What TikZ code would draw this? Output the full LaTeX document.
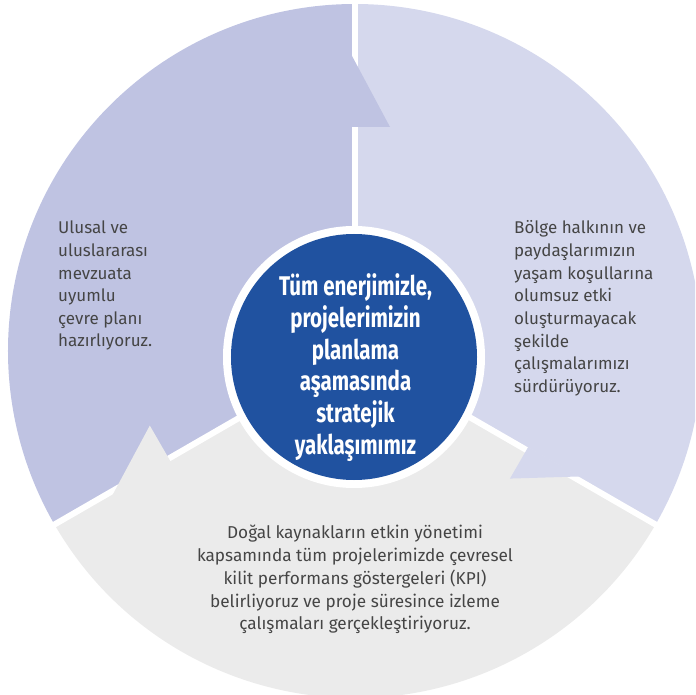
\documentclass[tikz,border=0pt]{standalone}
\usepackage{fontspec}
\setmainfont{Fira Sans}
\newfontfamily\condfont[FakeStretch=0.76]{Fira Sans}
\usetikzlibrary{calc}
\definecolor{leftfill}{HTML}{BFC3E2}
\definecolor{rightfill}{HTML}{D5D8ED}
\definecolor{bottomfill}{HTML}{EBEBEB}
\definecolor{hubfill}{HTML}{2052A0}
\definecolor{bodytext}{HTML}{454545}
\tikzset{
  gapline/.style={white, line width=6pt},
  bodylabel/.style={inner sep=0pt, text=bodytext,
                    font=\fontsize{17}{22.6}\selectfont},
  hublabel/.style={inner sep=0pt, align=center, text=white,
                   font=\condfont\bfseries\fontsize{27}{31.8}\selectfont}
}
\begin{document}
\begin{tikzpicture}[x=1pt, y=1pt]

  \useasboundingbox (-355,-344) rectangle (340,351);
  \clip (-355,-344) rectangle (340,351);
  \def\R{347}

  % ===== Three sectors =====
  \fill[leftfill]   (0,0) -- (90:\R)  arc[start angle=90,  end angle=210, radius=\R] -- cycle;
  \fill[bottomfill] (0,0) -- (210:\R) arc[start angle=210, end angle=330, radius=\R] -- cycle;
  \fill[rightfill]  (0,0) -- (-30:\R) arc[start angle=-30, end angle=90,  radius=\R] -- cycle;

  % white gaps between sectors
  \foreach \a in {90,210,330}
    \draw[gapline] (0,0) -- (\a:{\R+10});

  % arrow tips pointing clockwise into the next sector
  \foreach \a/\ri/\ro/\p/\col in {90/224/296/35/leftfill,
                                  -30/198/257/33/rightfill,
                                  210/215/282/38/bottomfill}
    \fill[\col] ($(\a:\ro)+({\a+90}:3.5)$) -- ($(\a:\ri)+({\a+90}:3.5)$)
                -- ($(\a:\ri)+({\a-90}:\p)$) -- cycle;

  % ===== Hub =====
  \fill[white]   (-1,-6) circle[radius=131];
  \fill[hubfill] (-1,-6) circle[radius=123];
  \node[hublabel, anchor=base] (hub) at (0.5,-103.5)
    {Tüm enerjimizle,\\projelerimizin\\planlama\\aşamasında\\stratejik\\yaklaşımımız};

  % ===== Sector texts (anchored at last baseline) =====
  \node[bodylabel, anchor=base west, align=left] (leftnote) at (-297,4)
    {Ulusal ve\\uluslararası\\mevzuata\\uyumlu\\çevre planı\\hazırlıyoruz.};
  \node[bodylabel, anchor=base west, align=left] (rightnote) at (159,-41.2)
    {Bölge halkının ve\\paydaşlarımızın\\yaşam koşullarına\\olumsuz etki\\oluşturmayacak\\şekilde\\çalışmalarımızı\\sürdürüyoruz.};
  \node[bodylabel, anchor=base, align=center,
        font=\fontsize{17.2}{22.8}\selectfont] (bottomnote) at (0,-278.9)
    {Doğal kaynakların etkin yönetimi\\kapsamında tüm projelerimizde çevresel\\kilit performans göstergeleri (KPI)\\belirliyoruz ve proje süresince izleme\\çalışmaları gerçekleştiriyoruz.};

\end{tikzpicture}
\end{document}
